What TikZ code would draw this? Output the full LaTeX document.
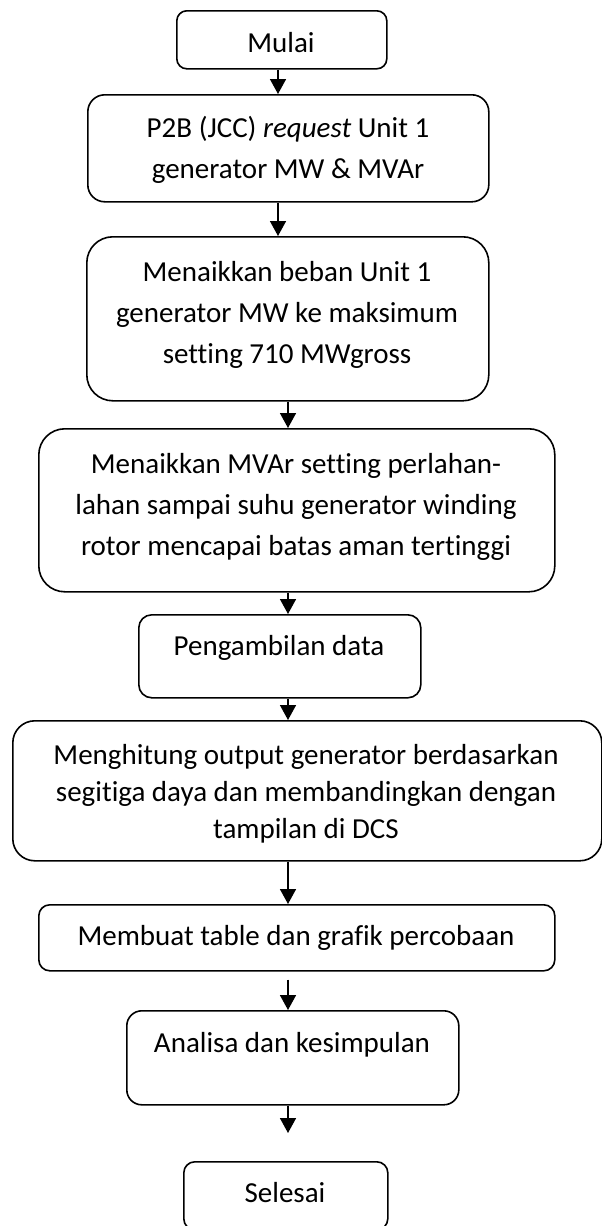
\documentclass[tikz,border=0pt]{standalone}
\usepackage{fontspec}
\setmainfont{Carlito}[Ligatures={NoCommon}]
\usetikzlibrary{arrows.meta}
\begin{document}
\begin{tikzpicture}[x=1pt,y=-1pt,
  box/.style={draw=black, line width=1.6pt, rounded corners=#1, inner sep=0pt, anchor=north west},
  txt/.style={anchor=base, align=center, inner sep=0pt, font=\fontsize{29pt}{41pt}\selectfont},
  arr/.style={line width=1.6pt, -{Triangle[width=16pt,length=15pt]}}]
\useasboundingbox (0,0) rectangle (602,1226);
% boxes
\node[box=10pt, minimum width=210pt, minimum height=58pt]  (b1) at (176,10) {};
\node[box=17pt, minimum width=401pt, minimum height=107pt] (b2) at (87,94) {};
\node[box=26pt, minimum width=402pt, minimum height=164pt] (b3) at (86,236) {};
\node[box=26pt, minimum width=516pt, minimum height=163pt] (b4) at (38,428) {};
\node[box=13pt, minimum width=282pt, minimum height=83pt]  (b5) at (138,614) {};
\node[box=22pt, minimum width=589pt, minimum height=140pt] (b6) at (12,720) {};
\node[box=11pt, minimum width=516pt, minimum height=66pt]  (b7) at (38,904) {};
\node[box=15pt, minimum width=332pt, minimum height=94pt]  (b8) at (126,1010) {};
\node[box=11pt, minimum width=204pt, minimum height=68pt]  (b9) at (183,1161) {};
% texts (anchor base = baseline of the last line)
\node[txt] (t1) at (281,52) {Mulai};
\node[txt] (t2) at (288,178) {P2B (JCC) \textit{request} Unit 1\\generator MW \& MVAr};
\node[txt] (t3) at (287,363) {Menaikkan beban Unit 1\\generator MW ke maksimum\\setting 710 MWgross};
\node[txt] (t4) at (296,555) {Menaikkan MVAr setting perlahan-\\lahan sampai suhu generator winding\\rotor mencapai batas aman tertinggi};
\node[txt] (t5) at (279,655) {Pengambilan data};
\node[txt, font=\fontsize{29pt}{37pt}\selectfont] (t6) at (306,838) {Menghitung output generator berdasarkan\\segitiga daya dan membandingkan dengan\\tampilan di DCS};
\node[txt] (t7) at (296,945) {Membuat table dan grafik percobaan};
\node[txt] (t8) at (292,1052) {Analisa dan kesimpulan};
\node[txt] (t9) at (285,1202) {Selesai};
% arrows
\coordinate (ax1) at (278,0);
\coordinate (ax2) at (288,0);
\draw[arr] (b1.south -| ax1) -- (b2.north -| ax1);
\draw[arr] (b2.south -| ax1) -- (b3.north -| ax1);
\draw[arr] (b3.south -| ax2) -- (b4.north -| ax2);
\draw[arr] (b4.south -| ax2) -- (b5.north -| ax2);
\draw[arr] (b5.south -| ax2) -- (b6.north -| ax2);
\draw[arr] (b6.south -| ax2) -- (b7.north -| ax2);
\draw[arr, shorten <=8pt] (b7.south -| ax2) -- (b8.north -| ax2);
\draw[arr, shorten >=28pt] (b8.south -| ax2) -- (b9.north -| ax2);
\end{tikzpicture}
\end{document}
